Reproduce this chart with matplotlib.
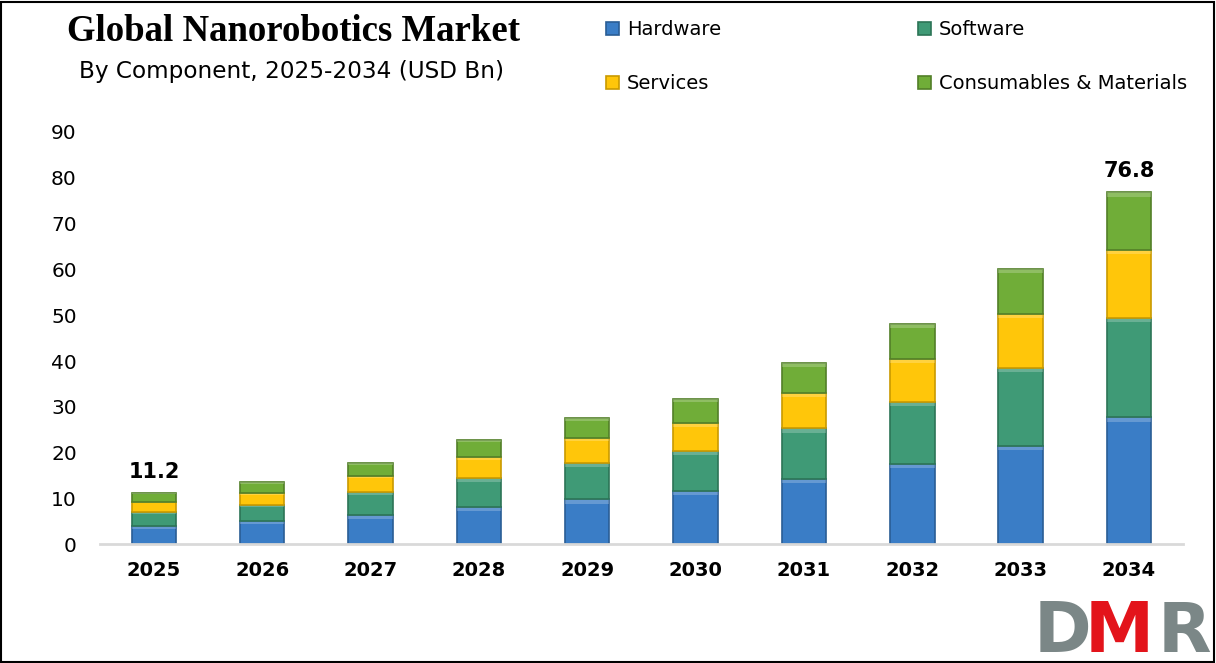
import numpy as np
import matplotlib.pyplot as plt
from matplotlib.patches import Rectangle

years = ['2025', '2026', '2027', '2028', '2029', '2030', '2031', '2032', '2033', '2034']
hardware = [3.9, 5.0, 6.3, 8.1, 9.8, 11.6, 14.2, 17.5, 21.4, 27.7]
software = [3.1, 3.5, 5.1, 6.3, 7.9, 8.7, 11.1, 13.5, 17.0, 21.7]
services = [2.2, 2.6, 3.5, 4.6, 5.5, 6.1, 7.7, 9.4, 11.8, 14.8]
consumables = [2.0, 2.4, 2.8, 3.7, 4.3, 5.3, 6.5, 7.7, 9.9, 12.6]
labels = ['Hardware', 'Software', 'Services', 'Consumables & Materials']
colors = ['#3a7dc6', '#3f9a76', '#ffc60a', '#70ad38']
edges = ['#2a5d95', '#2c7456', '#c99a00', '#527f28']

fig = plt.figure(figsize=(12.16, 6.63), dpi=100)
ax = fig.add_axes([0.082, 0.179, 0.891, 0.622])

x = np.arange(len(years))
w = 0.41
bottom = np.zeros(len(years))
handles = []
for vals, c, ec, lab in zip([hardware, software, services, consumables], colors, edges, labels):
    vals = np.array(vals)
    b = ax.bar(x, vals, w, bottom=bottom, color=c, edgecolor=ec, linewidth=1.2, label=lab)
    # light bevel strip at top of each segment
    for xi, v, bt in zip(x, vals, bottom):
        ax.add_patch(Rectangle((xi - w / 2, bt + v - min(0.9, v * 0.12)), w, min(0.9, v * 0.12),
                               facecolor='white', alpha=0.22, linewidth=0))
    handles.append(b)
    bottom = bottom + vals

totals = bottom
ax.text(x[0], totals[0] + 2.5, '11.2', ha='center', va='bottom', fontsize=15, fontweight='bold')
ax.text(x[-1], totals[-1] + 2.5, '76.8', ha='center', va='bottom', fontsize=15, fontweight='bold')

ax.set_xlim(-0.5, len(years) - 0.5)
ax.set_ylim(0, 90)
ax.set_yticks(range(0, 91, 10))
ax.set_xticks(x)
ax.set_xticklabels(years, fontsize=14, fontweight='bold')
ax.tick_params(axis='y', labelsize=14.5, length=0, pad=16.5)
ax.tick_params(axis='x', length=0, pad=12)
for s in ['top', 'right', 'left']:
    ax.spines[s].set_visible(False)
ax.spines['bottom'].set_color('#d9d9d9')
ax.spines['bottom'].set_linewidth(2)

fig.text(0.241, 0.952, 'Global Nanorobotics Market', ha='center', va='center', fontsize=26.5,
         fontweight='bold', family='Liberation Serif')
fig.text(0.240, 0.892, 'By Component, 2025-2034 (USD Bn)', ha='center', va='center', fontsize=16.7)

# matplotlib fills legend column by column
order = [0, 2, 1, 3]
fig.legend(handles=[handles[i] for i in order], labels=[labels[i] for i in order], ncol=2,
           loc='upper left', bbox_to_anchor=(0.487, 0.99),
           frameon=False, fontsize=14, handlelength=0.7, handleheight=0.7, handletextpad=0.4,
           columnspacing=10.1, labelspacing=1.8, borderaxespad=0.3)

# DMR logo
fig.text(0.850, 0.017, 'D', color='#7b8787', fontsize=50, fontweight='bold', ha='left', va='baseline')
fig.text(0.892, 0.017, 'M', color='#e3141b', fontsize=50, fontweight='bold', ha='left', va='baseline')
fig.text(0.952, 0.017, 'R', color='#7b8787', fontsize=50, fontweight='bold', ha='left', va='baseline')

fig.add_artist(Rectangle((0.001, 0.002), 0.997, 0.995, transform=fig.transFigure, fill=False,
                         edgecolor='black', linewidth=1.5))

fig.savefig('out.png', dpi=100)
